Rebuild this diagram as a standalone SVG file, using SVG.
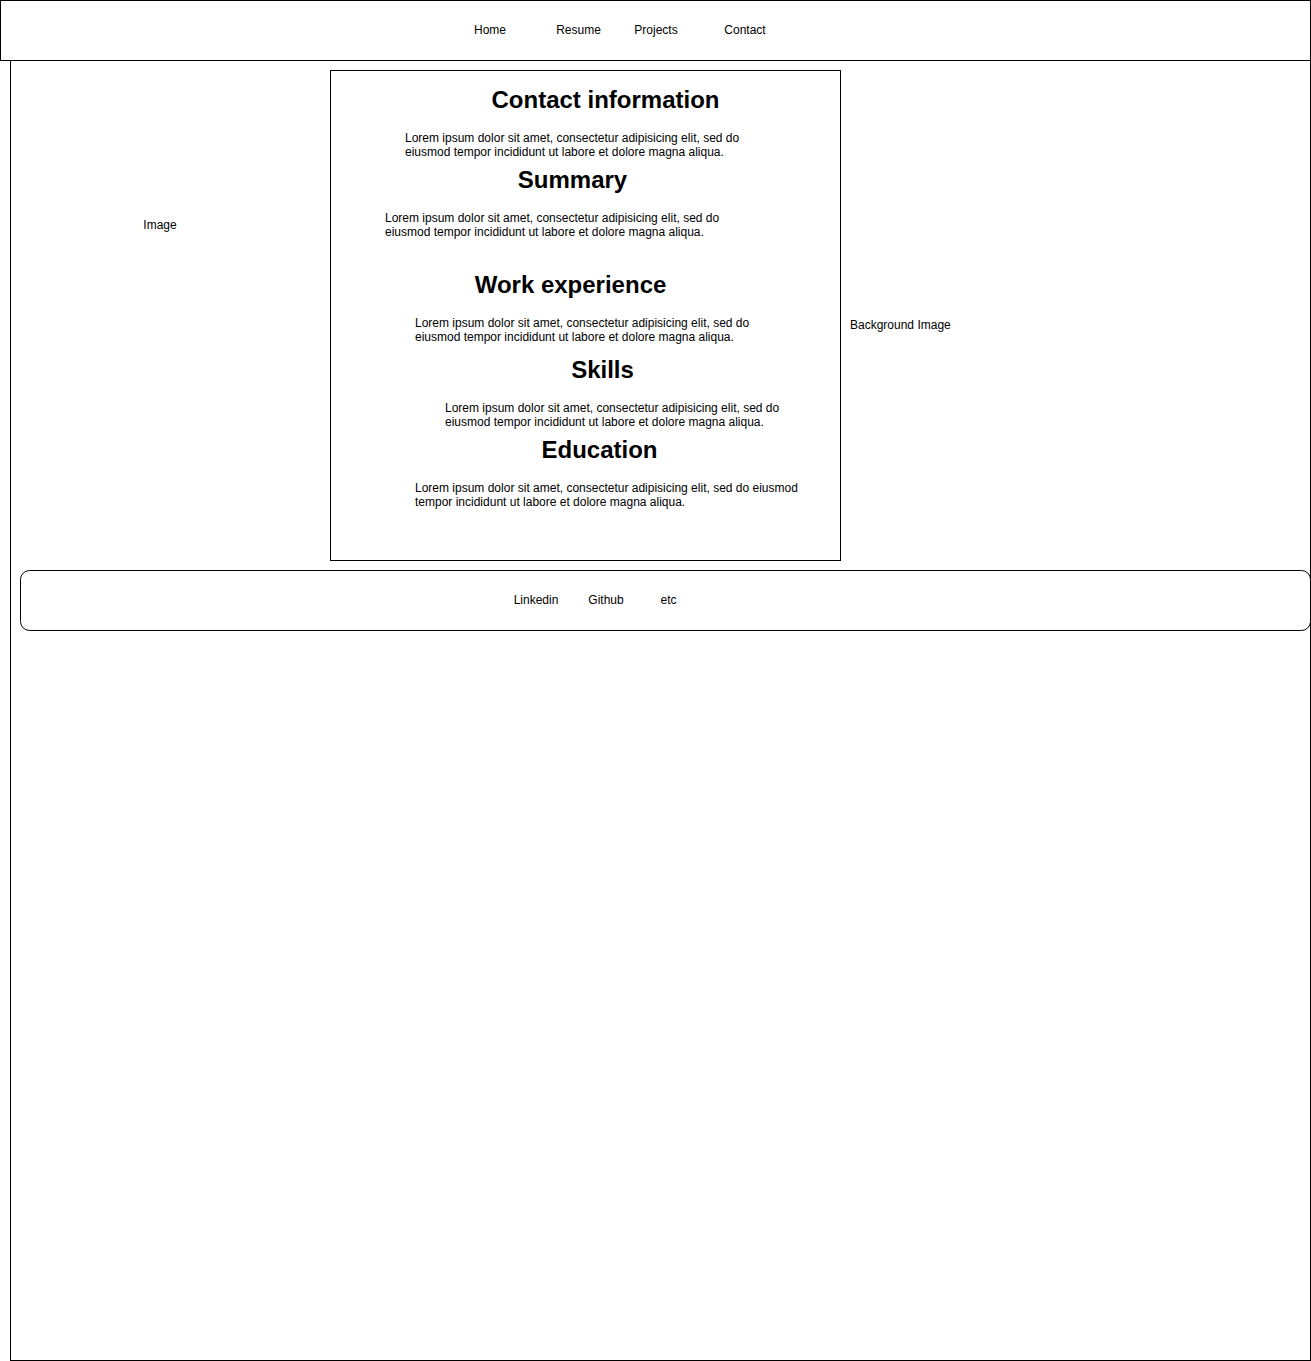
<svg xmlns="http://www.w3.org/2000/svg" width="1311" height="1361" viewBox="0 0 1311 1361">
<style>
.box{fill:#fff;stroke:#000;stroke-width:1}
.t{font-family:"Liberation Sans",Arial,sans-serif;font-size:12px;fill:#000}
.c{text-anchor:middle}
.h{font-family:"Liberation Sans",Arial,sans-serif;font-size:24px;font-weight:bold;fill:#000;text-anchor:middle}
</style>
<rect width="1311" height="1361" fill="#fff"/>
<g id="background">
<rect class="box" x="10.5" y="60.5" width="1300" height="1300"/>
<text class="t" x="850" y="329">Background Image</text>
</g>
<g id="header">
<rect class="box" x="0.5" y="0.5" width="1310" height="60"/>
<text class="t c" x="490" y="34">Home</text>
<text class="t c" x="578.5" y="34">Resume</text>
<text class="t c" x="656" y="34">Projects</text>
<text class="t c" x="745" y="34">Contact</text>
</g>
<g id="image">
<text class="t c" x="160" y="229">Image</text>
</g>
<g id="content">
<rect class="box" x="330.5" y="70.5" width="510" height="490"/>
<text class="h" x="605.5" y="108">Contact information</text>
<text class="t" x="405" y="142">Lorem ipsum dolor sit amet, consectetur adipisicing elit, sed do</text>
<text class="t" x="405" y="156">eiusmod tempor incididunt ut labore et dolore magna aliqua.</text>
<text class="h" x="572.5" y="188">Summary</text>
<text class="t" x="385" y="222">Lorem ipsum dolor sit amet, consectetur adipisicing elit, sed do</text>
<text class="t" x="385" y="236">eiusmod tempor incididunt ut labore et dolore magna aliqua.</text>
<text class="h" x="570.5" y="293">Work experience</text>
<text class="t" x="415" y="327">Lorem ipsum dolor sit amet, consectetur adipisicing elit, sed do</text>
<text class="t" x="415" y="341">eiusmod tempor incididunt ut labore et dolore magna aliqua.</text>
<text class="h" x="602.5" y="378">Skills</text>
<text class="t" x="445" y="412">Lorem ipsum dolor sit amet, consectetur adipisicing elit, sed do</text>
<text class="t" x="445" y="426">eiusmod tempor incididunt ut labore et dolore magna aliqua.</text>
<text class="h" x="599.5" y="458">Education</text>
<text class="t" x="415" y="492">Lorem ipsum dolor sit amet, consectetur adipisicing elit, sed do eiusmod</text>
<text class="t" x="415" y="506">tempor incididunt ut labore et dolore magna aliqua.</text>
</g>
<g id="footer">
<rect class="box" x="20.5" y="570.5" width="1290" height="60" rx="9" ry="9"/>
<text class="t c" x="536" y="604">Linkedin</text>
<text class="t c" x="606" y="604">Github</text>
<text class="t c" x="668.5" y="604">etc</text>
</g>
<g id="connectors"></g>
</svg>
